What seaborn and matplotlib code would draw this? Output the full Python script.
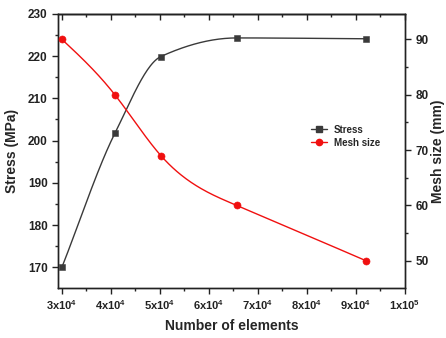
import numpy as np
import matplotlib
matplotlib.use("Agg")
import matplotlib.pyplot as plt
import seaborn as sns
from matplotlib.lines import Line2D
from matplotlib.ticker import MultipleLocator, FixedLocator, NullFormatter

# ---- data ----
elements = [30000, 40800, 50200, 65700, 92100]
stress = [170.0, 201.7, 219.9, 224.3, 224.1]
mesh_size = [90.0, 80.0, 69.0, 60.0, 50.0]
xtick_values = [30000, 40000, 50000, 60000, 70000, 80000, 90000, 100000]
xtick_labels = ["3x10$^4$", "4x10$^4$", "5x10$^4$", "6x10$^4$", "7x10$^4$",
                "8x10$^4$", "9x10$^4$", "1x10$^5$"]


def natural_spline(x, y, n=300):
    x = np.asarray(x, float); y = np.asarray(y, float)
    k = len(x)
    h = np.diff(x)
    A = np.zeros((k, k)); b = np.zeros(k)
    A[0, 0] = 1; A[-1, -1] = 1
    for i in range(1, k - 1):
        A[i, i - 1] = h[i - 1]
        A[i, i] = 2 * (h[i - 1] + h[i])
        A[i, i + 1] = h[i]
        b[i] = 6 * ((y[i + 1] - y[i]) / h[i] - (y[i] - y[i - 1]) / h[i - 1])
    M = np.linalg.solve(A, b)
    xs = np.linspace(x[0], x[-1], n)
    idx = np.clip(np.searchsorted(x, xs) - 1, 0, k - 2)
    x0 = x[idx]; x1 = x[idx + 1]; hh = x1 - x0
    a = (x1 - xs) / hh; bb = (xs - x0) / hh
    ys = (a * y[idx] + bb * y[idx + 1]
          + ((a ** 3 - a) * M[idx] + (bb ** 3 - bb) * M[idx + 1]) * hh ** 2 / 6)
    return xs, ys


def pchip(x, y, n=300):
    x = np.asarray(x, float); y = np.asarray(y, float)
    h = np.diff(x); d = np.diff(y) / h
    k = len(x)
    m = np.zeros(k)
    for i in range(1, k - 1):
        if d[i - 1] * d[i] > 0:
            w1 = 2 * h[i] + h[i - 1]; w2 = h[i] + 2 * h[i - 1]
            m[i] = (w1 + w2) / (w1 / d[i - 1] + w2 / d[i])
        else:
            m[i] = 0.0
    m[0] = d[0]; m[-1] = d[-1]
    xs = np.linspace(x[0], x[-1], n)
    idx = np.clip(np.searchsorted(x, xs) - 1, 0, k - 2)
    t = (xs - x[idx]) / h[idx]
    h00 = 2 * t ** 3 - 3 * t ** 2 + 1; h10 = t ** 3 - 2 * t ** 2 + t
    h01 = -2 * t ** 3 + 3 * t ** 2; h11 = t ** 3 - t ** 2
    ys = (h00 * y[idx] + h10 * h[idx] * m[idx] + h01 * y[idx + 1]
          + h11 * h[idx] * m[idx + 1])
    return xs, ys


sns.set_theme(style="ticks")
plt.rcParams["font.family"] = ["Liberation Sans", "DejaVu Sans"]
plt.rcParams["font.weight"] = "bold"
plt.rcParams["mathtext.fontset"] = "custom"
plt.rcParams["mathtext.rm"] = "Liberation Sans:bold"
plt.rcParams["mathtext.it"] = "Liberation Sans:bold"
plt.rcParams["mathtext.bf"] = "Liberation Sans:bold"

fig = plt.figure(figsize=(4.46, 3.38), dpi=100)
ax = fig.add_axes([0.130, 0.148, 0.778, 0.811])
ax2 = ax.twinx()

stress_color = "#3a3a3a"
mesh_color = "#f01010"

sx, sy = pchip(elements, stress)
mx, my = natural_spline(elements, mesh_size)

sns.lineplot(x=sx, y=sy, ax=ax, color=stress_color, lw=1.0, legend=False)
sns.scatterplot(x=elements, y=stress, ax=ax, marker="s", s=22, color=stress_color,
                edgecolor=stress_color, legend=False, zorder=3)
sns.lineplot(x=mx, y=my, ax=ax2, color=mesh_color, lw=1.0, legend=False)
sns.scatterplot(x=elements, y=mesh_size, ax=ax2, marker="o", s=26, color=mesh_color,
                edgecolor=mesh_color, legend=False, zorder=3)

ax.set_xlim(29200, 100000)
ax.set_ylim(165.1, 230)
ax2.set_ylim(45.1, 94.6)

ax.xaxis.set_major_locator(FixedLocator(xtick_values))
ax.set_xticklabels(xtick_labels)
ax.xaxis.set_minor_locator(MultipleLocator(5000))
ax.yaxis.set_major_locator(MultipleLocator(10))
ax.yaxis.set_minor_locator(MultipleLocator(5))
ax2.yaxis.set_major_locator(MultipleLocator(10))
ax2.yaxis.set_minor_locator(MultipleLocator(5))

for a in (ax, ax2):
    for s in a.spines.values():
        s.set_visible(True)
        s.set_linewidth(1.0)
        s.set_color("#222222")

ax.tick_params(axis="x", which="both", top=False, direction="out", labelsize=8,
               colors="#222222")
ax.tick_params(axis="x", which="major", length=4, width=1)
ax.tick_params(axis="x", which="minor", length=2.5, width=1)
ax.tick_params(axis="y", which="major", length=4, width=1, labelsize=8.5, colors="#222222")
ax.tick_params(axis="y", which="minor", length=2.5, width=1)
ax2.tick_params(axis="y", which="major", length=4, width=1, labelsize=8.5, colors="#222222")
ax2.tick_params(axis="y", which="minor", length=2.5, width=1)

# top ticks pointing inward
top = ax.secondary_xaxis("top")
top.xaxis.set_major_locator(FixedLocator(xtick_values))
top.xaxis.set_minor_locator(MultipleLocator(5000))
top.xaxis.set_major_formatter(NullFormatter())
top.tick_params(axis="x", which="major", direction="in", length=4, width=1, colors="#222222")
top.tick_params(axis="x", which="minor", direction="in", length=2.5, width=1, colors="#222222")
top.spines["top"].set_linewidth(1.0)
top.spines["top"].set_color("#222222")

ax.set_xlabel("Number of elements", fontsize=10, fontweight="bold", labelpad=5)
ax.set_ylabel("Stress (MPa)", fontsize=10, fontweight="bold", labelpad=6)
ax2.set_ylabel("Mesh size (mm)", fontsize=10, fontweight="bold", labelpad=2)

for lab in ax.get_xticklabels() + ax.get_yticklabels() + ax2.get_yticklabels():
    lab.set_fontweight("bold")

handles = [
    Line2D([0], [0], color=stress_color, lw=1.0, marker="s", markersize=4),
    Line2D([0], [0], color=mesh_color, lw=1.0, marker="o", markersize=4.5),
]
leg = ax2.legend(handles, ["Stress", "Mesh size"], loc="upper left",
                 bbox_to_anchor=(0.73, 0.595), frameon=False,
                 prop={"size": 7, "weight": "bold"}, handlelength=1.6,
                 handletextpad=0.7, labelspacing=0.3, borderaxespad=0,
                 borderpad=0)

fig.savefig("out.png", dpi=100)
